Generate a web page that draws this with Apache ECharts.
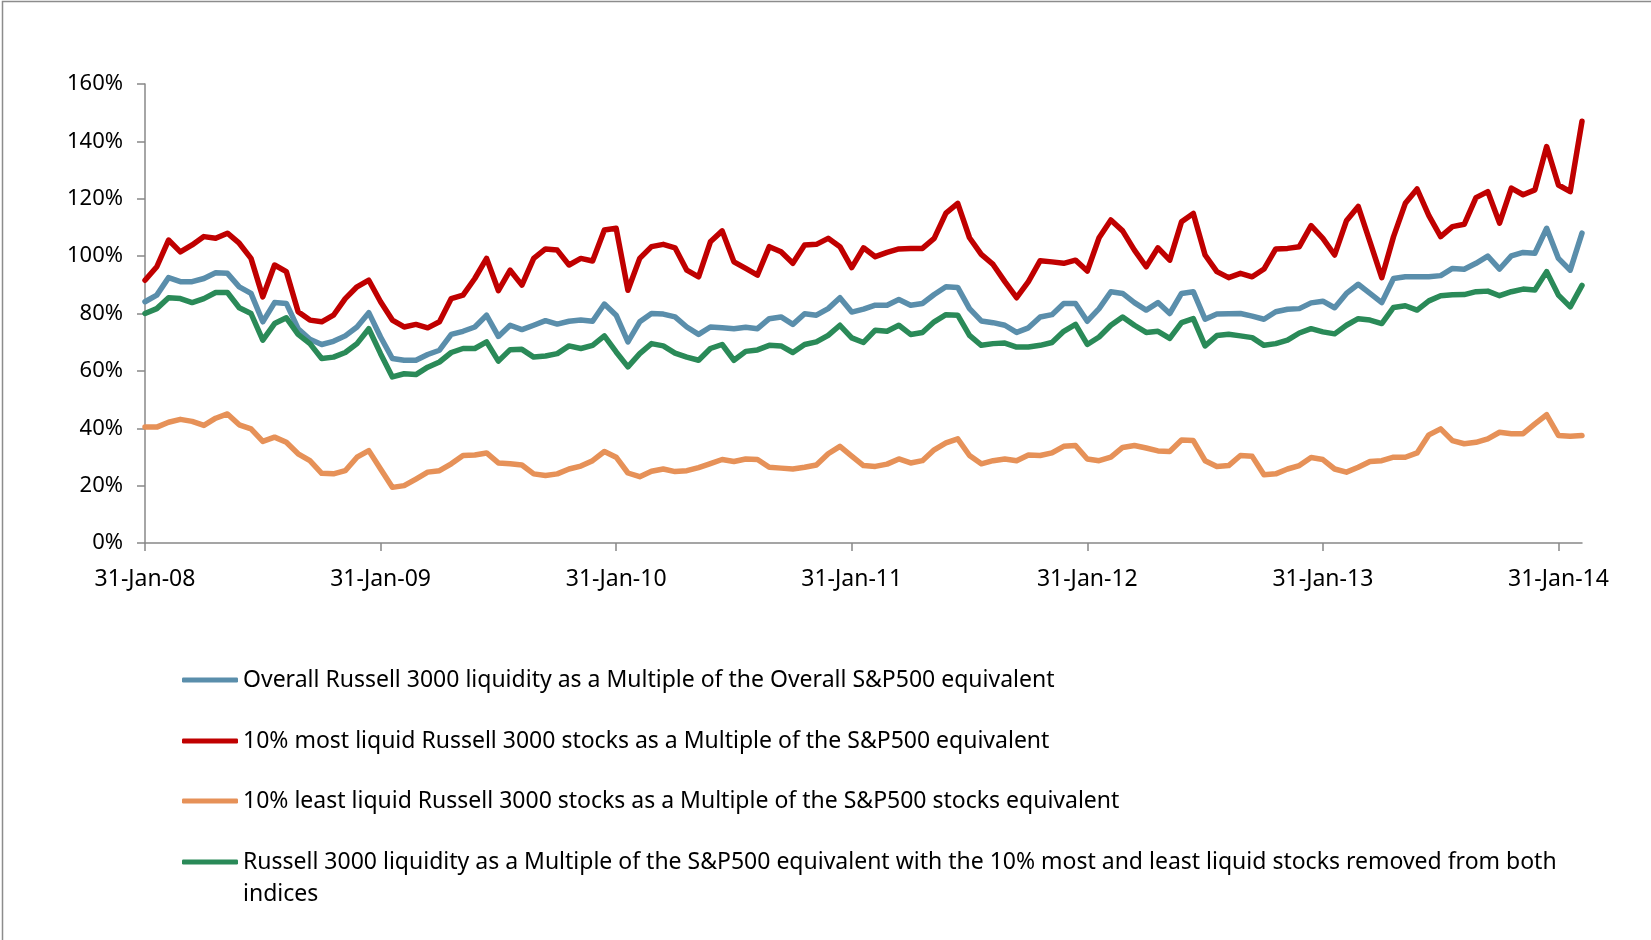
<!DOCTYPE html>
<html>
<head>
<meta charset="utf-8">
<script src="https://cdn.jsdelivr.net/npm/echarts@6/dist/echarts.min.js"></script>
<style>
  html, body { margin: 0; padding: 0; background: #fff; }
  #chart { width: 1651px; height: 940px; }
</style>
</head>
<body>
<div id="chart"></div>
<script>
// x positions are years since 31-Jan-08, one reading every 0.05 year
const yearStep = 0.05
const tickLabels = ['31-Jan-08', '31-Jan-09', '31-Jan-10', '31-Jan-11', '31-Jan-12', '31-Jan-13', '31-Jan-14']
const yTicks = [0, 20, 40, 60, 80, 100, 120, 140, 160]

const names = [
  'Overall Russell 3000 liquidity as a Multiple of the Overall S&P500 equivalent',
  '10% most liquid Russell 3000 stocks as a Multiple of the S&P500 equivalent',
  '10% least liquid Russell 3000 stocks as a Multiple of the S&P500 stocks equivalent',
  'Russell 3000 liquidity as a Multiple of the S&P500 equivalent with the 10% most and least liquid stocks removed from both indices'
]
const colors = ['#5A8EAB', '#C00000', '#E69158', '#2A8A58']

// values in %
const overall = [
  84.1, 86.4, 92.5, 91.1, 91.1, 92.2, 94.2, 94, 89.3, 87, 77.1, 83.8, 83.5, 74.7, 71, 69.2, 70.3, 72.2, 75.3, 80.3, 71.8, 64.3, 63.7, 63.7, 65.7, 67.2, 72.7, 73.8, 75.3, 79.4, 72,
  75.9, 74.4, 75.9, 77.5, 76.3, 77.3, 77.7, 77.3, 83.3, 79.4, 70.1, 77.1, 80, 79.8, 78.8, 75.3, 72.7, 75.3, 75, 74.7, 75.2, 74.7, 78.2, 78.8, 76.2, 79.9, 79.4, 81.7, 85.5, 80.5,
  81.5, 82.9, 82.9, 84.9, 82.9, 83.5, 86.6, 89.3, 89.1, 81.7, 77.4, 76.8, 75.9, 73.4, 75, 78.8, 79.6, 83.5, 83.5, 77.3, 81.7, 87.6, 87, 83.8, 81.2, 83.8, 80, 87, 87.6, 78, 79.8,
  79.9, 80, 79.1, 78, 80.6, 81.5, 81.7, 83.7, 84.3, 82, 87, 90.2, 87, 83.8, 92.2, 92.8, 92.8, 92.8, 93.2, 95.7, 95.4, 97.5, 100, 95.5, 100.1, 101.3, 101, 109.7, 99.2, 95.1, 108
]
const mostLiquid = [
  91.6, 96.3, 105.6, 101.5, 103.9, 106.8, 106.2, 108, 104.5, 99.2, 85.8, 96.9, 94.6, 80.6, 77.7, 77.1, 79.4, 85.2, 89.3, 91.6, 84.1, 77.7, 75.3, 76.2, 75, 77.1, 85.2, 86.4, 92.2, 99.2, 88,
  95.1, 89.9, 99.2, 102.5, 102.1, 96.9, 99.2, 98.3, 109.1, 109.7, 88.1, 99.2, 103.3, 104.1, 102.9, 95.1, 92.8, 105, 108.8, 98, 95.7, 93.4, 103.3, 101.5, 97.5, 103.9, 104.1, 106.2, 103.3, 96,
  102.9, 99.8, 101.3, 102.5, 102.7, 102.7, 106.2, 115, 118.4, 106.4, 100.6, 97.1, 91.1, 85.5, 91.1, 98.4, 98, 97.5, 98.6, 94.8, 106.4, 112.6, 108.8, 102.1, 96.3, 102.9, 98.6, 112, 114.9, 100.4, 94.6,
  92.5, 94, 92.8, 95.5, 102.5, 102.7, 103.3, 110.6, 106.2, 100.4, 112.3, 117.3, 105, 92.5, 106.8, 118.4, 123.4, 114.1, 106.8, 110.3, 111.1, 120.4, 122.5, 111.5, 123.7, 121.4, 123.1, 138.2, 124.8, 122.5, 147
]
const leastLiquid = [
  40.4, 40.4, 42.1, 43.1, 42.4, 41, 43.5, 45, 41.2, 39.8, 35.4, 36.9, 35.1, 31.1, 28.7, 24.3, 24.1, 25.2, 29.9, 32.2, 25.8, 19.4, 20, 22.3, 24.7, 25.2, 27.6, 30.5, 30.7, 31.4, 27.9,
  27.6, 27.2, 24.1, 23.5, 24.1, 25.8, 26.8, 28.7, 31.9, 29.9, 24.4, 23.1, 25, 25.8, 24.9, 25.2, 26.3, 27.7, 29.1, 28.4, 29.3, 29.1, 26.4, 26.1, 25.8, 26.4, 27.2, 31.1, 33.7, 30.3,
  27, 26.7, 27.5, 29.3, 27.9, 28.7, 32.5, 34.9, 36.3, 30.5, 27.6, 28.7, 29.3, 28.7, 30.7, 30.5, 31.4, 33.7, 34, 29.3, 28.7, 29.9, 33.3, 34, 33.1, 32.1, 31.9, 35.9, 35.7, 28.7, 26.7,
  27, 30.5, 30.2, 23.8, 24.1, 25.8, 27, 29.8, 29.1, 25.8, 24.7, 26.4, 28.4, 28.7, 29.9, 29.9, 31.4, 37.7, 39.8, 35.7, 34.6, 35.1, 36.3, 38.6, 38.1, 38.1, 41.5, 44.7, 37.5, 37.2, 37.5
]
const trimmed = [
  80, 81.7, 85.5, 85.2, 83.8, 85.2, 87.3, 87.3, 82, 80, 70.7, 76.5, 78.5, 72.7, 69.5, 64.3, 64.8, 66.4, 69.5, 74.7, 66, 57.9, 59, 58.7, 61.3, 63.1, 66.4, 67.8, 67.8, 70.1, 63.4,
  67.4, 67.5, 64.8, 65.2, 66, 68.7, 67.8, 68.9, 72.2, 66.6, 61.4, 66, 69.5, 68.7, 66.2, 64.8, 63.7, 67.8, 69.2, 63.7, 66.8, 67.3, 68.9, 68.7, 66.4, 69.2, 70.1, 72.4, 75.9, 71.5,
  69.9, 74.2, 73.8, 75.9, 72.7, 73.4, 77.1, 79.6, 79.4, 72.4, 68.9, 69.5, 69.7, 68.3, 68.3, 68.9, 69.9, 73.8, 76.2, 69.2, 71.8, 75.9, 78.8, 75.9, 73.4, 73.8, 71.3, 76.8, 78.2, 68.7, 72.3,
  72.8, 72.2, 71.6, 68.9, 69.5, 70.7, 73.2, 74.7, 73.6, 72.9, 75.9, 78.2, 77.7, 76.5, 82.1, 82.7, 81.2, 84.4, 86.2, 86.5, 86.6, 87.6, 87.8, 86.2, 87.6, 88.5, 88.2, 94.6, 86.4, 82.3, 89.8
]

const allValues = [overall, mostLiquid, leastLiquid, trimmed]
const FONT = '"Noto Sans", sans-serif'
const lastX = +((overall.length - 1) * yearStep).toFixed(2)

const toPoints = (arr) => arr.map((v, i) => [+(i * yearStep).toFixed(2), v])

const series = allValues.map((arr, i) => ({
  name: names[i],
  type: 'line',
  symbol: 'none',
  smooth: false,
  animation: false,
  lineStyle: {width: 5.5, color: colors[i], cap: 'round', join: 'round'},
  itemStyle: {color: colors[i]},
  data: toPoints(arr)
}))

// one legend per row so the rows sit exactly where they are in the picture
const legendRows = [680, 741, 801, 862]
const legends = names.map((n, i) => {
  const last = i === names.length - 1
  return {
    data: [n],
    orient: 'vertical',
    left: 182,
    // the wrapped item gets an empty first line so its first text line stays level with the icon
    top: last ? legendRows[i] - 48 : legendRows[i] - 16,
    padding: 0,
    icon: 'roundRect',
    itemWidth: 56,
    itemHeight: 5,
    selectedMode: false,
    formatter: (name) => last ? '\n' + name.replace(' indices', '\nindices') : name,
    textStyle: {
      fontFamily: FONT,
      fontSize: 23,
      color: '#000',
      lineHeight: 32
    }
  }
})

const chart = echarts.init(document.getElementById('chart'), null, {renderer: 'canvas'})
chart.setOption({
  backgroundColor: '#fff',
  animation: false,
  grid: {left: 145, top: 84, width: 1437, height: 459, containLabel: false},
  legend: legends,
  xAxis: {
    type: 'value',
    min: 0,
    max: lastX,
    interval: 1,
    splitLine: {show: false},
    axisLine: {lineStyle: {color: '#888', width: 1.5}},
    axisTick: {show: true, inside: false, length: 8, customValues: tickLabels.map((_, i) => i),
      lineStyle: {color: '#888', width: 1.5}},
    axisLabel: {
      customValues: tickLabels.map((_, i) => i),
      formatter: (v) => tickLabels[Math.round(v)] || '',
      fontFamily: FONT, fontSize: 23, color: '#000', margin: 25
    }
  },
  yAxis: {
    type: 'value',
    min: 0,
    max: 160,
    interval: 20,
    splitLine: {show: false},
    axisLine: {show: true, lineStyle: {color: '#888', width: 1.5}},
    axisTick: {show: true, inside: false, length: 8, lineStyle: {color: '#888', width: 1.5}},
    axisLabel: {
      formatter: (v) => yTicks.includes(v) ? v + '%' : '',
      fontFamily: FONT, fontSize: 22, color: '#000', margin: 22
    }
  },
  graphic: [{
    type: 'rect',
    silent: true,
    shape: {x: 2.5, y: 1.5, width: 1800, height: 1000},
    style: {fill: 'none', stroke: '#8c8c8c', lineWidth: 1.5}
  }],
  series: series
})
</script>
</body>
</html>
